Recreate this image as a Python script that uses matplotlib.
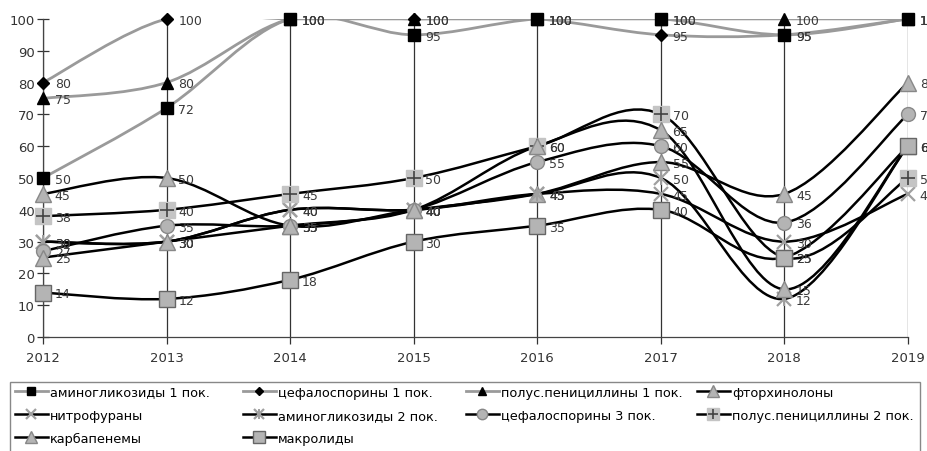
import matplotlib

matplotlib.use("Agg")
import matplotlib.pyplot as plt
import numpy as np
from matplotlib.lines import Line2D
from matplotlib.patches import PathPatch, Rectangle
from matplotlib.path import Path

plt.rcParams["font.family"] = ["DejaVu Sans"]

years = [2012, 2013, 2014, 2015, 2016, 2017, 2018, 2019]

amino1 = [50, 72, 100, 95, 100, 100, 95, 100]
cefalo1 = [80, 100, 100, 100, 100, 95, 95, 100]
penic1 = [75, 80, 100, 100, 100, 100, 100, 100]
ftorhin = [45, 50, 35, 40, 45, 55, 45, 80]
nitrofur = [30, 30, 40, 40, 45, 45, 30, 45]
amino2 = [30, 30, 40, 40, 45, 50, 12, 60]
cefalo3 = [27, 35, 35, 40, 55, 60, 36, 70]
penic2 = [38, 40, 45, 50, 60, 70, 25, 50]
karbapen = [25, 30, 35, 40, 60, 65, 15, 60]
makrolid = [14, 12, 18, 30, 35, 40, 25, 60]

names = [
    "аминогликозиды 1 пок.",
    "цефалоспорины 1 пок.",
    "полус.пенициллины 1 пок.",
    "фторхинолоны",
    "нитрофураны",
    "аминогликозиды 2 пок.",
    "цефалоспорины 3 пок.",
    "полус.пенициллины 2 пок.",
    "карбапенемы",
    "макролиды",
]
values = [amino1, cefalo1, penic1, ftorhin, nitrofur, amino2, cefalo3, penic2,
          karbapen, makrolid]

GREY_LINE = "#9a9a9a"
GREY_FILL = "#b4b4b4"

# (line colour, line width, list of marker layers)
styles = [
    (GREY_LINE, 2.0, [dict(marker="s", ms=8, mfc="black", mec="black")]),
    (GREY_LINE, 2.0, [dict(marker="D", ms=6, mfc="black", mec="black")]),
    (GREY_LINE, 2.0, [dict(marker="^", ms=8, mfc="black", mec="black")]),
    ("black", 1.8, [dict(marker="^", ms=11, mfc=GREY_FILL, mec="#888888")]),
    ("black", 1.8, [dict(marker="x", ms=10, mec="#a0a0a0", mew=1.6)]),
    ("black", 1.8, [dict(marker="x", ms=10, mec="#a0a0a0", mew=1.6),
                    dict(marker="|", ms=10, mec="#a0a0a0", mew=1.4)]),
    ("black", 1.8, [dict(marker="o", ms=10, mfc=GREY_FILL, mec="#888888")]),
    ("black", 1.8, [dict(marker="s", ms=11, mfc="#c4c4c4", mec="#c4c4c4"),
                    dict(marker="+", ms=10, mec="#444444", mew=1.2)]),
    ("black", 1.8, [dict(marker="^", ms=11, mfc=GREY_FILL, mec="#888888")]),
    ("black", 1.8, [dict(marker="s", ms=11, mfc=GREY_FILL, mec="#666666")]),
]


def smooth_path(xs, ys):
    """Catmull-Rom style bezier path through the points (Excel smoothed line)."""
    pts = np.column_stack([xs, ys]).astype(float)
    verts = [pts[0]]
    codes = [Path.MOVETO]
    n = len(pts)
    for i in range(n - 1):
        p0 = pts[max(i - 1, 0)]
        p1 = pts[i]
        p2 = pts[i + 1]
        p3 = pts[min(i + 2, n - 1)]
        c1 = p1 + (p2 - p0) / 6.0
        c2 = p2 - (p3 - p1) / 6.0
        verts += [c1, c2, p2]
        codes += [Path.CURVE4] * 3
    return Path(verts, codes)


fig = plt.figure(figsize=(9.27, 4.52), dpi=100)
ax = fig.add_axes([0.0464, 0.252, 0.933, 0.704])

for x in years:
    ax.axvline(x, color="#333333", lw=0.9, zorder=1)

# black lines first so the grey top group sits above them
order = [3, 4, 5, 6, 7, 8, 9, 0, 1, 2]
for k in order:
    color, lw, layers = styles[k]
    ys = values[k]
    ax.add_patch(PathPatch(smooth_path(years, ys), fill=False, edgecolor=color,
                           lw=lw, zorder=2 + k * 0.1, capstyle="round"))
    for lay in layers:
        ax.plot(years, ys, ls="none", zorder=3 + k * 0.1, clip_on=False, **lay)
    for x, y in zip(years, ys):
        ax.annotate(str(y), (x, y), xytext=(8.5, -1), textcoords="offset points",
                    ha="left", va="center", fontsize=9, color="#3a3a3a",
                    zorder=5, annotation_clip=False)

handles = []
for k in range(len(names)):
    color, lw, layers = styles[k]
    h = [Line2D([], [], color=color, lw=lw)]
    for lay in layers:
        h.append(Line2D([], [], ls="none", **{**lay, "ms": lay["ms"] * 0.75}))
    handles.append(tuple(h))

ax.set_xlim(2012, 2019)
ax.set_ylim(0, 100)
ax.set_xticks(years)
ax.set_yticks(range(0, 101, 10))
ax.tick_params(axis="y", direction="inout", length=8, width=0.9,
               labelsize=9.5, colors="#333333", pad=2)
ax.tick_params(axis="x", direction="out", length=5, width=0.9,
               labelsize=9.5, colors="#333333", pad=5)
for side in ("top", "right"):
    ax.spines[side].set_visible(False)
for side in ("left", "bottom"):
    ax.spines[side].set_color("#444444")
    ax.spines[side].set_linewidth(0.9)

# legend: one frame, four fixed-width columns read left to right
fig.patches.append(Rectangle((10 / 927, -0.02), 910 / 927, 1 - 383 / 452 + 0.02,
                             transform=fig.transFigure, fill=False,
                             edgecolor="#888888", lw=1.0))
col_x = [12, 240, 463, 694]
for c, x0 in enumerate(col_x):
    idx = list(range(c, len(names), 4))
    fig.legend([handles[i] for i in idx], [names[i] for i in idx],
               loc="upper left", bbox_to_anchor=(x0 / 927, 1 - 384 / 452),
               fontsize=9.3, frameon=False, handlelength=2.6,
               handletextpad=0.15, labelspacing=0.78, borderpad=0.2,
               borderaxespad=0)

fig.savefig("out.png", dpi=100)
